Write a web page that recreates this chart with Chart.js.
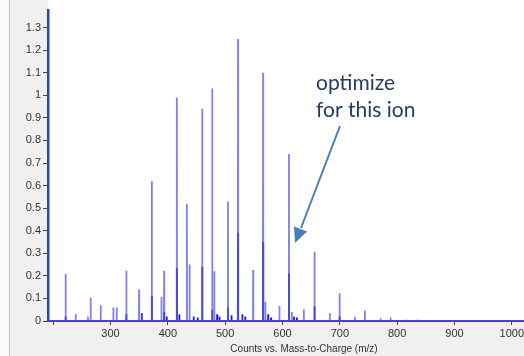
<!DOCTYPE html>
<html>
<head>
<meta charset="UTF-8">
<title>Counts vs. Mass-to-Charge</title>
<script src="https://cdn.jsdelivr.net/npm/chart.js"></script>
<style>
    html, body { margin: 0; padding: 0; overflow: hidden; background: #f0f0f0; }
    .wrap { position: relative; width: 560px; height: 356px; }
</style>
</head>
<body>
<div class="wrap"><canvas id="spectrum"></canvas></div>
<script>
// main sticks (m/z, counts)
const peakMz = [221.7, 239.2, 260.7, 265.4, 282.9, 304.9, 310.8, 327.6, 349.8, 354.5,
    372.0, 388.8, 393.5, 415.7, 433.2, 437.8, 460.0, 477.4, 481.0, 504.9,
    522.4, 548.8, 566.1, 570.1, 594.6, 611.2, 616.1, 637.1, 655.8, 682.5,
    699.5, 726.2, 743.7, 771.0, 788.6, 816.0, 834.0];
const peakCounts = [0.208, 0.031, 0.02, 0.103, 0.07, 0.06, 0.06, 0.223, 0.14, 0.035,
    0.62, 0.108, 0.223, 0.99, 0.52, 0.25, 0.94, 1.03, 0.22, 0.53,
    1.25, 0.226, 1.10, 0.085, 0.066, 0.74, 0.04, 0.052, 0.307, 0.034,
    0.123, 0.019, 0.046, 0.012, 0.015, 0.006, 0.006];

// darker overlapping sticks near the baseline
const baseMz = [221.7, 327.6, 354.5, 372.0, 393.5, 398.0, 415.7, 420.0, 445.0, 452.0,
    460.0, 477.4, 486.0, 490.0, 504.9, 511.0, 522.4, 530.0, 535.0, 566.1,
    575.0, 580.0, 611.2, 620.0, 625.0, 655.8, 699.5];
const baseCounts = [0.02, 0.03, 0.035, 0.11, 0.04, 0.02, 0.235, 0.03, 0.02, 0.015,
    0.24, 0.05, 0.03, 0.02, 0.06, 0.025, 0.39, 0.03, 0.02, 0.35,
    0.03, 0.015, 0.21, 0.02, 0.015, 0.065, 0.02];

const xTicks = [200, 300, 400, 500, 600, 700, 800, 900, 1000];
const xTickLabels = ['', '300', '400', '500', '600', '700', '800', '900', '1000'];
const yTicks = [0, 0.1, 0.2, 0.3, 0.4, 0.5, 0.6, 0.7, 0.8, 0.9, 1, 1.1, 1.2, 1.3];
const yTickLabels = ['0', '0.1', '0.2', '0.3', '0.4', '0.5', '0.6', '0.7', '0.8', '0.9', '1', '1.1', '1.2', '1.3'];

const xMin = 191, xMax = 1084;
const yMin = 0, yMax = 1.378;

function sticks(mz, counts) {
    const pts = [{x: xMin, y: 0}];
    mz.forEach((m, i) => {
        pts.push({x: m - 0.3, y: 0}, {x: m, y: counts[i]}, {x: m + 0.3, y: 0});
    });
    pts.push({x: xMax, y: 0});
    return pts;
}

const frame = {
    id: 'frame',
    beforeDraw(chart) {
        const ctx = chart.ctx, a = chart.chartArea;
        ctx.save();
        ctx.fillStyle = '#f0f0f0';
        ctx.fillRect(0, 0, chart.width, chart.height);
        ctx.fillStyle = '#fafafa';
        ctx.fillRect(0, 0, 9, chart.height);
        ctx.strokeStyle = '#c4c4c4';
        ctx.lineWidth = 1;
        ctx.beginPath();
        ctx.moveTo(9.5, 0); ctx.lineTo(9.5, chart.height);
        ctx.stroke();
        ctx.fillStyle = '#ffffff';
        ctx.fillRect(a.left, 0, a.right - a.left, a.bottom);
        ctx.restore();
    },
    afterDraw(chart) {
        const ctx = chart.ctx;
        ctx.save();
        // annotation
        ctx.fillStyle = '#263c5e';
        ctx.font = '21px Lato';
        ctx.textBaseline = 'alphabetic';
        ctx.fillText('optimize', 316, 90);
        ctx.fillText('for this ion', 316, 117);
        // arrow
        ctx.strokeStyle = '#4a7ebb';
        ctx.fillStyle = '#4a7ebb';
        ctx.lineWidth = 2;
        ctx.beginPath();
        ctx.moveTo(340, 126);
        ctx.lineTo(301, 228);
        ctx.stroke();
        ctx.beginPath();
        ctx.moveTo(295, 243);
        ctx.lineTo(307, 231.5);
        ctx.lineTo(294, 226.5);
        ctx.closePath();
        ctx.fill();
        ctx.restore();
    }
};

const tickFont = { family: 'Liberation Sans', size: 11 };

new Chart(document.getElementById('spectrum'), {
    type: 'line',
    data: {
        datasets: [{
            data: sticks(peakMz, peakCounts),
            borderColor: 'rgba(85, 85, 235, 0.75)',
            borderWidth: 1.8,
            pointRadius: 0,
            tension: 0
        }, {
            data: sticks(baseMz, baseCounts),
            borderColor: 'rgba(20, 20, 200, 0.95)',
            borderWidth: 1.8,
            pointRadius: 0,
            tension: 0
        }]
    },
    options: {
        responsive: true,
        maintainAspectRatio: false,
        animation: false,
        layout: { padding: { top: 10, left: 0, right: 0, bottom: 0 } },
        plugins: {
            legend: { display: false },
            tooltip: { enabled: false }
        },
        scales: {
            x: {
                type: 'linear',
                min: xMin,
                max: xMax,
                border: { color: '#2a4cc4', width: 2 },
                grid: { drawOnChartArea: false, drawTicks: true, tickLength: 4, color: '#444' },
                afterBuildTicks(scale) {
                    scale.ticks = xTicks.map(v => ({ value: v }));
                },
                ticks: {
                    autoSkip: false,
                    maxRotation: 0,
                    padding: 2,
                    color: '#333',
                    font: tickFont,
                    callback: (v, i) => xTickLabels[i]
                },
                title: {
                    display: true,
                    text: 'Counts vs. Mass-to-Charge (m/z)',
                    color: '#333',
                    font: { family: 'Liberation Sans', size: 10 },
                    padding: { top: 0, bottom: 1 }
                },
                afterFit(scale) { scale.height = 35; }
            },
            y: {
                min: yMin,
                max: yMax,
                border: { color: '#2348b8', width: 2.5 },
                grid: { drawOnChartArea: false, drawTicks: true, tickLength: 5, color: '#444' },
                afterBuildTicks(scale) {
                    scale.ticks = yTicks.map(v => ({ value: v }));
                },
                ticks: {
                    autoSkip: false,
                    padding: 2,
                    color: '#333',
                    font: tickFont,
                    callback: (v, i) => yTickLabels[i]
                },
                afterFit(scale) { scale.width = 48; }
            }
        }
    },
    plugins: [frame]
});
</script>
</body>
</html>
